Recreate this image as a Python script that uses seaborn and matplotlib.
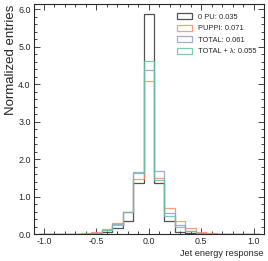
import numpy as np
import pandas as pd
import matplotlib
matplotlib.use("Agg")
import matplotlib.pyplot as plt
import seaborn as sns
from matplotlib.patches import Patch
from matplotlib.ticker import MultipleLocator, FormatStrFormatter

sns.set_theme(style="ticks")
plt.rcParams['font.family'] = ['Liberation Sans', 'DejaVu Sans']

bin_centers = [-1.0, -0.9, -0.8, -0.7, -0.6, -0.5, -0.4, -0.3, -0.2, -0.1, 0.0,
               0.1, 0.2, 0.3, 0.4, 0.5, 0.6, 0.7, 0.8, 0.9, 1.0]
bin_edges = [-1.05 + 0.1 * i for i in range(22)]

series_names = ["0 PU: 0.035", "PUPPI: 0.071", "TOTAL: 0.061", "TOTAL + λ: 0.055"]
vals_0pu = [0, 0, 0, 0.005, 0.01, 0.02, 0.07, 0.17, 0.35, 1.38, 5.87,
            1.36, 0.36, 0.07, 0.03, 0.01, 0.005, 0, 0, 0, 0]
vals_puppi = [0, 0, 0.005, 0.01, 0.03, 0.05, 0.14, 0.30, 0.60, 1.47, 4.09,
              1.49, 0.69, 0.35, 0.16, 0.07, 0.03, 0.01, 0.005, 0, 0]
vals_total = [0, 0, 0, 0.005, 0.02, 0.04, 0.12, 0.28, 0.60, 1.63, 4.37,
              1.69, 0.58, 0.25, 0.10, 0.04, 0.015, 0.005, 0, 0, 0]
vals_total_l = [0, 0, 0, 0.005, 0.02, 0.04, 0.12, 0.26, 0.60, 1.66, 4.62,
                1.44, 0.50, 0.19, 0.08, 0.04, 0.015, 0.005, 0, 0, 0]
colors = ["#333333", "#fc8d62", "#8da0cb", "#66c2a5"]

fig = plt.figure(figsize=(2.68, 2.61), dpi=100)
ax = fig.add_axes([0.125, 0.1023, 0.86, 0.8805])

all_vals = [vals_0pu, vals_puppi, vals_total, vals_total_l]
for name, vals, c in zip(series_names, all_vals, colors):
    df = pd.DataFrame({"x": bin_centers, "w": vals})
    sns.histplot(data=df, x="x", weights="w", bins=bin_edges, element="step",
                 fill=False, color=c, linewidth=0.9, alpha=0.85, ax=ax, stat="count")

ax.set_xlim(-1.1, 1.1)
ax.set_ylim(0, 6.13)
ax.xaxis.set_major_locator(MultipleLocator(0.5))
ax.xaxis.set_minor_locator(MultipleLocator(0.1))
ax.yaxis.set_major_locator(MultipleLocator(1.0))
ax.yaxis.set_minor_locator(MultipleLocator(0.2))
ax.xaxis.set_major_formatter(FormatStrFormatter("%.1f"))
ax.yaxis.set_major_formatter(FormatStrFormatter("%.1f"))
ax.tick_params(which="both", direction="in", top=True, right=True, labelsize=6.4,
               width=0.6, pad=2)
ax.tick_params(which="major", length=4)
ax.tick_params(which="minor", length=2)
for s in ax.spines.values():
    s.set_linewidth(0.8)

ax.set_xlabel("Jet energy response", fontsize=6.6, loc="right", labelpad=2)
ax.set_ylabel("Normalized entries", fontsize=9.5, loc="top", labelpad=1)

handles = [Patch(facecolor="none", edgecolor=c, linewidth=0.9, alpha=0.85) for c in colors]
ax.legend(handles, series_names, loc="upper right", fontsize=5.4, frameon=False,
          handlelength=2.0, handleheight=0.9, handletextpad=0.8, labelspacing=0.5,
          bbox_to_anchor=(0.99, 0.985), borderaxespad=0.3)

fig.savefig("out.png", dpi=100)
